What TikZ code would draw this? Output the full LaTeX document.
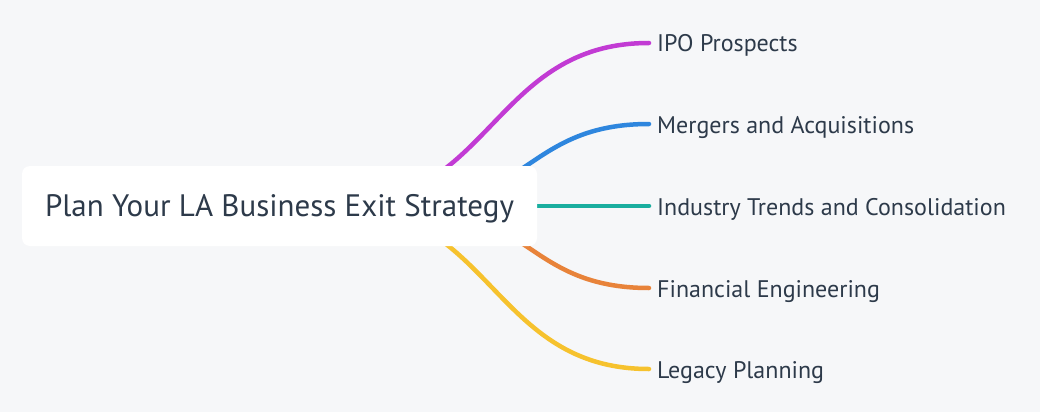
\documentclass[tikz,border=0pt]{standalone}
\usepackage{fontspec}
\setmainfont{PT Sans}
\usepackage{xcolor}
\definecolor{mmbg}{RGB}{246,247,249}
\definecolor{mmtext}{RGB}{45,58,74}
\definecolor{mmmagenta}{RGB}{194,59,212}
\definecolor{mmblue}{RGB}{46,134,222}
\definecolor{mmteal}{RGB}{26,174,159}
\definecolor{mmorange}{RGB}{232,131,58}
\definecolor{mmyellow}{RGB}{246,194,46}
\usetikzlibrary{positioning,calc}
\pgfdeclarelayer{back}
\pgfdeclarelayer{lines}
\pgfsetlayers{back,lines,main}

\begin{document}
\begin{tikzpicture}[x=1pt,y=-1pt,
  rootnode/.style={fill=white,rounded corners=8pt,minimum width=515pt,minimum height=80pt,text height=20pt,text depth=0pt,text=mmtext,font=\fontsize{31}{35}\selectfont},
  leaf/.style={anchor=west,inner xsep=8pt,inner ysep=0pt,text height=18pt,text depth=0pt,text=mmtext,font=\fontsize{24}{28}\selectfont},
  branch/.style={line width=4.5pt,line cap=round}]
  % Background
  \begin{pgfonlayer}{back}
    \fill[mmbg] (0,0) rectangle (1040,412);
  \end{pgfonlayer}
  \useasboundingbox (0,0) rectangle (1040,412);
  % Root
  \node[rootnode] (root) at (279.5,206) {Plan Your LA Business Exit Strategy};
  % Leaves
  \node[leaf] (ipo) at (649,43) {IPO Prospects};
  \node[leaf] (merge) at (649,124) {Mergers and Acquisitions};
  \node[leaf] (trend) at (649,206) {Industry Trends and Consolidation};
  \node[leaf] (fin) at (649,288) {Financial Engineering};
  \node[leaf] (legacy) at (649,369) {Legacy Planning};
  % Branch starts (hidden behind root)
  \coordinate (s1) at (335,206);
  \coordinate (s2) at (406,206);
  % Branches
  \begin{pgfonlayer}{lines}
    \draw[branch,mmmagenta] (s1) .. controls (492,206) and (492,43) .. (ipo.west);
    \draw[branch,mmblue] (s2) .. controls (527.5,206) and (527.5,124) .. (merge.west);
    \draw[branch,mmteal] (root.east) -- (trend.west);
    \draw[branch,mmorange] (s2) .. controls (527.5,206) and (527.5,288) .. (fin.west);
    \draw[branch,mmyellow] (s1) .. controls (492,206) and (492,369) .. (legacy.west);
  \end{pgfonlayer}
\end{tikzpicture}
\end{document}
